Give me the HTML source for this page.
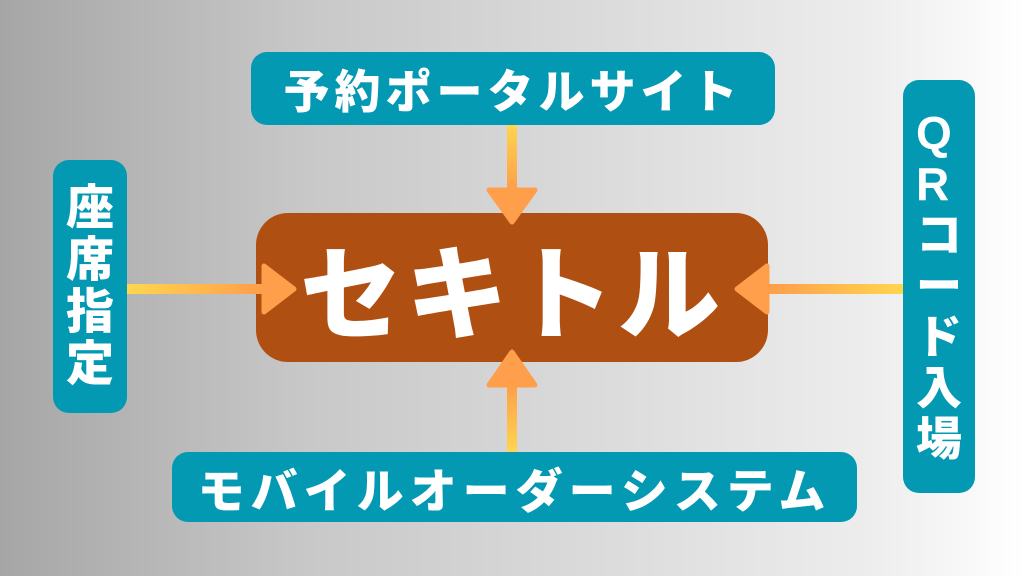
<!DOCTYPE html>
<html><head><meta charset="utf-8"><style>
body{margin:0;width:1024px;height:576px;overflow:hidden;background:linear-gradient(90deg,#a6a6a6 0%,#c8c8c8 30%,#dcdcdc 60%,#ededed 85%,#ffffff 100%);position:relative;font-family:"Liberation Sans","Noto Sans CJK JP",sans-serif;font-weight:900}
.b{position:absolute;background:#0399b3;border-radius:16px;color:#fff;display:flex;align-items:center;justify-content:center;font-weight:900;white-space:nowrap}
.v{flex-direction:column}
</style></head><body>
<svg width="1024" height="576" style="position:absolute;left:0;top:0">
<defs>
<linearGradient id="gv" x1="0" y1="0" x2="0" y2="1"><stop offset="0" stop-color="#ffd84f"/><stop offset="1" stop-color="#ff9c4a"/></linearGradient>
<linearGradient id="gvu" x1="0" y1="1" x2="0" y2="0"><stop offset="0" stop-color="#ffd84f"/><stop offset="1" stop-color="#ff9c4a"/></linearGradient>
<linearGradient id="gh" x1="0" y1="0" x2="1" y2="0"><stop offset="0" stop-color="#ffd84f"/><stop offset="1" stop-color="#ff9c4a"/></linearGradient>
<linearGradient id="ghl" x1="1" y1="0" x2="0" y2="0"><stop offset="0" stop-color="#ffd84f"/><stop offset="1" stop-color="#ff9c4a"/></linearGradient>
</defs>
<rect x="256" y="213" width="512" height="149" rx="32" fill="#b04f12"/>
<rect x="507" y="122" width="10" height="70" fill="url(#gv)"/>
<polygon points="489,190 535,190 512,222" fill="#ff9f4c" stroke="#ff9f4c" stroke-width="5" stroke-linejoin="round"/>
<rect x="507" y="382" width="10" height="73" fill="url(#gvu)"/>
<polygon points="489,385 535,385 512,352" fill="#ff9f4c" stroke="#ff9f4c" stroke-width="5" stroke-linejoin="round"/>
<rect x="122" y="284" width="145" height="10" fill="url(#gh)"/>
<polygon points="264,266 264,312 294,289" fill="#ff9f4c" stroke="#ff9f4c" stroke-width="5" stroke-linejoin="round"/>
<rect x="765" y="284" width="142" height="10" fill="url(#ghl)"/>
<polygon points="767,266 767,312 737,289" fill="#ff9f4c" stroke="#ff9f4c" stroke-width="5" stroke-linejoin="round"/>
</svg>
<div class="b" style="left:251px;top:52px;width:524px;height:73px;font-size:46px;letter-spacing:5px">予約ポータルサイト</div>
<div class="b" style="left:172px;top:452px;width:685px;height:70px;font-size:47px;letter-spacing:6px">モバイルオーダーシステム</div>
<div class="b v" style="left:53px;top:160px;width:74px;height:253px;font-size:48px;line-height:52px">座<br>席<br>指<br>定</div>
<div class="b v" style="left:903px;top:80px;width:72px;height:413px;font-size:46px;line-height:51px">Q<br>R<br>コ<br>ー<br>ド<br>入<br>場</div>
<div style="position:absolute;left:256px;top:213px;width:512px;height:149px;display:flex;align-items:center;justify-content:center;color:#fff;font-size:102px;font-weight:900;letter-spacing:4px;white-space:nowrap">セキトル</div>
</body></html>
